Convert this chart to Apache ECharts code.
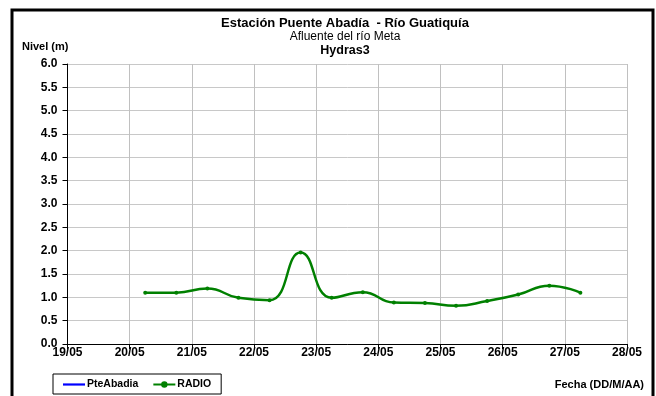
<!DOCTYPE html>
<html>
<head>
<meta charset="utf-8">
<script src="https://cdn.jsdelivr.net/npm/echarts@6/dist/echarts.min.js"></script>
<style>
html,body{margin:0;padding:0;background:#fff;}
#c{width:656px;height:396px;}
</style>
</head>
<body>
<div id="c"></div>
<script>
// Data
const xTickDays = [19, 20, 21, 22, 23, 24, 25, 26, 27, 28];
const radioTimes = ["20/05 06:00","20/05 18:00","21/05 06:00","21/05 18:00","22/05 06:00","22/05 18:00","23/05 06:00","23/05 18:00","24/05 06:00","24/05 18:00","25/05 06:00","25/05 18:00","26/05 06:00","26/05 18:00","27/05 06:00"];
const radioValues = [1.10, 1.10, 1.19, 0.99, 0.94, 1.96, 0.99, 1.11, 0.89, 0.88, 0.82, 0.92, 1.06, 1.25, 1.10];
const pteAbadiaTimes = [];
const pteAbadiaValues = [];

function toDay(s) {
  const [d, t] = s.split(" ");
  const day = parseInt(d.split("/")[0], 10);
  const [h, m] = t.split(":").map(Number);
  return day + (h + m / 60) / 24;
}
const radioData = radioTimes.map((t, i) => [toDay(t), radioValues[i]]);
const pteData = pteAbadiaTimes.map((t, i) => [toDay(t), pteAbadiaValues[i]]);

const FONT = "Liberation Sans, Arial, sans-serif";
const chart = echarts.init(document.getElementById('c'), null, {renderer: 'canvas'});
chart.setOption({
  animation: false,
  backgroundColor: '#fff',
  textStyle: {fontFamily: FONT},
  title: [
    {text: 'Estación Puente Abadía  - Río Guatiquía', left: 345, top: 17, padding: 0, textAlign: 'center',
     textStyle: {fontFamily: FONT, fontSize: 13, fontWeight: 'bold', color: '#000'}},
    {text: 'Afluente del río Meta', left: 345, top: 31, padding: 0, textAlign: 'center',
     textStyle: {fontFamily: FONT, fontSize: 12, fontWeight: 'normal', color: '#000'}},
    {text: 'Hydras3', left: 345, top: 44, padding: 0, textAlign: 'center',
     textStyle: {fontFamily: FONT, fontSize: 12.5, fontWeight: 'bold', color: '#000'}},
    {text: 'Nivel (m)', left: 22, top: 41, padding: 0,
     textStyle: {fontFamily: FONT, fontSize: 11, fontWeight: 'bold', color: '#000'}},
    {text: 'Fecha (DD/M/AA)', right: 12, top: 379, padding: 0,
     textStyle: {fontFamily: FONT, fontSize: 11, fontWeight: 'bold', color: '#000'}}
  ],
  legend: {
    left: 53, top: 374,
    padding: [5, 10, 4, 10],
    borderColor: '#000', borderWidth: 1,
    itemWidth: 22, itemHeight: 8, itemGap: 14,
    symbolKeepAspect: true,
    textStyle: {fontFamily: FONT, fontSize: 10.5, fontWeight: 'bold', color: '#000', padding: [0, 0, 0, -3]},
    data: [
      {name: 'PteAbadia', icon: 'path://M0,0 L30,0 L30,3 L0,3 Z'},
      {name: 'RADIO'}
    ]
  },
  grid: {left: 67.5, right: 29, top: 64, bottom: 52},
  xAxis: {
    type: 'value', min: 19, max: 28, interval: 1,
    axisLine: {show: true, lineStyle: {color: '#000', width: 1}},
    axisTick: {show: true, length: 5, lineStyle: {color: '#000'}},
    axisLabel: {formatter: v => (v < 10 ? '0' + v : v) + '/05', fontFamily: FONT, fontSize: 12, fontWeight: 'bold', color: '#000', margin: 3},
    splitLine: {show: true, lineStyle: {color: '#c0c0c0', width: 1}}
  },
  yAxis: {
    type: 'value', min: 0, max: 6, interval: 0.5,
    axisLine: {show: true, lineStyle: {color: '#000', width: 1}},
    axisTick: {show: true, length: 5, lineStyle: {color: '#000'}},
    axisLabel: {formatter: v => v.toFixed(1), fontFamily: FONT, fontSize: 12, fontWeight: 'bold', color: '#000', margin: 10},
    splitLine: {show: true, lineStyle: {color: '#c8c8c8', width: 1}}
  },
  series: [
    {name: 'PteAbadia', type: 'line', data: pteData, symbol: 'none', color: '#0000ff', lineStyle: {width: 2.5, color: '#0000ff'}},
    {name: 'RADIO', type: 'line', data: radioData, smooth: 0.5, symbol: 'circle', symbolSize: 4, color: '#008000',
     itemStyle: {color: '#008000'}, lineStyle: {width: 2.5, color: '#008000'}}
  ],
  graphic: [
    {type: 'rect', shape: {x: 12, y: 10, width: 641, height: 400}, style: {fill: 'none', stroke: '#000', lineWidth: 3}, silent: true}
  ]
});
</script>
</body>
</html>
